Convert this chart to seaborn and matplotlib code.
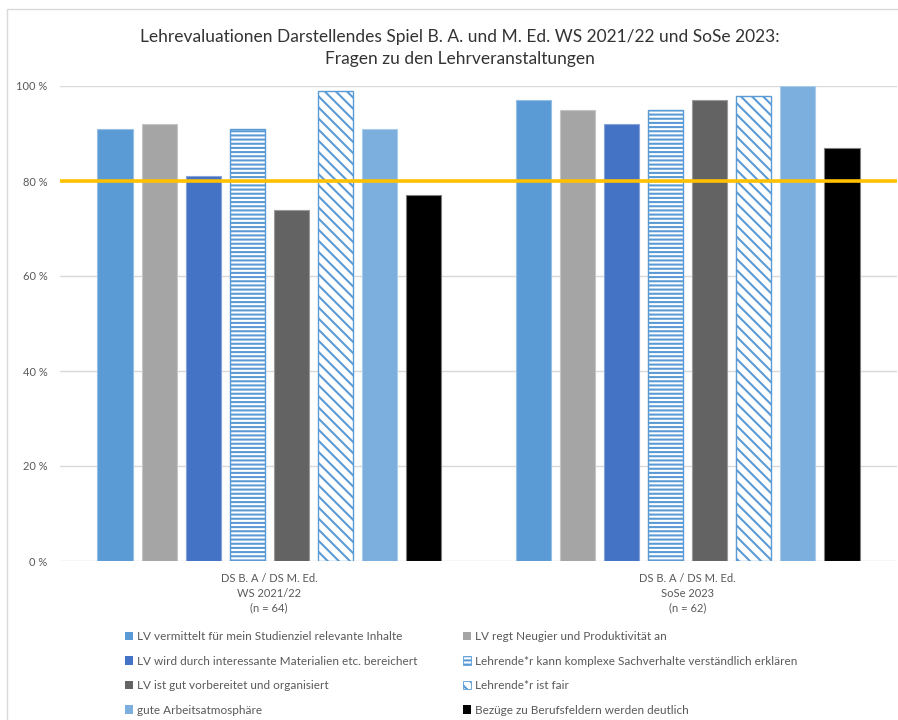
import matplotlib
matplotlib.use("Agg")
import matplotlib.pyplot as plt
from matplotlib.patches import Patch, Rectangle
from matplotlib.colors import to_rgb
import seaborn as sns
import pandas as pd

# --- data -------------------------------------------------------------
groups = [
    "DS B. A / DS M. Ed.\nWS 2021/22\n(n = 64)",
    "DS B. A / DS M. Ed.\nSoSe 2023\n(n = 62)",
]
items = [
    "LV vermittelt für mein Studienziel relevante Inhalte",
    "LV regt Neugier und Produktivität an",
    "LV wird durch interessante Materialien etc. bereichert",
    "Lehrende*r kann komplexe Sachverhalte verständlich erklären",
    "LV ist gut vorbereitet und organisiert",
    "Lehrende*r ist fair",
    "gute Arbeitsatmosphäre",
    "Bezüge zu Berufsfeldern werden deutlich",
]
ws_2021 = [91, 92, 81, 91, 74, 99, 91, 77]
sose_2023 = [97, 95, 92, 95, 97, 98, 100, 87]
target = 80
yticks = [0, 20, 40, 60, 80, 100]

colors = ["#5B9BD5", "#A5A5A5", "#4472C4", "#5B9BD5",
          "#636363", "#5B9BD5", "#7CAFDD", "#000000"]
hatches = [None, None, None, "----", None, "\\\\\\", None, None]

df = pd.DataFrame({
    "Gruppe": [g for g in groups for _ in items],
    "Frage": items * len(groups),
    "Anteil": ws_2021 + sose_2023,
})

# --- style --------------------------------------------------------------
sns.set_style("white")
plt.rcParams["font.family"] = ["Lato", "DejaVu Sans"]
plt.rcParams["hatch.linewidth"] = 1.5
text_grey = "#595959"

fig = plt.figure(figsize=(8.98, 7.2), dpi=100)
ax = fig.add_axes([60 / 898, 1 - 561 / 720, 837 / 898, (561 - 86) / 720])

sns.barplot(data=df, x="Gruppe", y="Anteil", hue="Frage", hue_order=items,
            palette=colors, width=0.842, gap=0.2, legend=False, ax=ax,
            zorder=2)


def lighten(c, f):
    r, g, b = to_rgb(c)
    return (r + (1 - r) * f, g + (1 - g) * f, b + (1 - b) * f)


for cont, col, hat in zip(ax.containers, colors, hatches):
    for bar in cont:
        if hat:
            bar.set_facecolor("white")
            bar.set_hatch(hat)
            bar.set_edgecolor(col)
            bar.set_linewidth(1.0)
        else:
            bar.set_facecolor(col)
            bar.set_edgecolor(lighten(col, 0.35) if col != "#000000" else "#7F7F7F")
            bar.set_linewidth(0.8)

ax.axhline(target, color="#FFC000", lw=2.6, zorder=5)

ax.set_ylim(0, 100)
ax.set_xlim(-0.5, 1.5)
ax.set_yticks(yticks)
ax.set_yticklabels([f"{v} %" for v in yticks], color=text_grey, fontsize=8)
ax.yaxis.grid(True, color="#D9D9D9", lw=1)
ax.set_axisbelow(True)
ax.tick_params(axis="y", length=0, pad=9)
ax.tick_params(axis="x", length=0, pad=9, labelsize=8, labelcolor=text_grey)
for lbl in ax.get_xticklabels():
    lbl.set_linespacing(1.4)
for s in ax.spines.values():
    s.set_visible(False)
ax.set_xlabel("")
ax.set_ylabel("")

fig.text(0.512, 1 - 48 / 720,
         "Lehrevaluationen Darstellendes Spiel B. A. und M. Ed. WS 2021/22 und SoSe 2023:\n"
         "Fragen zu den Lehrveranstaltungen",
         ha="center", va="center", fontsize=12.5, color="#333333", linespacing=1.5)

# legend, filled row by row
handles = []
for col, hat in zip(colors, hatches):
    if hat:
        handles.append(Patch(facecolor="white", edgecolor=col, hatch=hat, lw=0.6))
    else:
        handles.append(Patch(facecolor=col, edgecolor="none"))
order = [0, 2, 4, 6, 1, 3, 5, 7]
leg = fig.legend([handles[i] for i in order], [items[i] for i in order],
                 ncol=2, loc="upper left", bbox_to_anchor=(125 / 898, 1 - 631 / 720),
                 frameon=False, fontsize=8.5, handlelength=0.7, handleheight=0.7,
                 handletextpad=0.3, columnspacing=3.9, labelspacing=1.15,
                 borderaxespad=0, borderpad=0)
for t in leg.get_texts():
    t.set_color(text_grey)

# chart frame
fig.add_artist(Rectangle((7 / 898, -0.1), 1.1, 1 - 9 / 720 + 0.1,
                         transform=fig.transFigure, fill=False,
                         ec="#D9D9D9", lw=1))

fig.savefig("out.png", dpi=100, facecolor="white")
